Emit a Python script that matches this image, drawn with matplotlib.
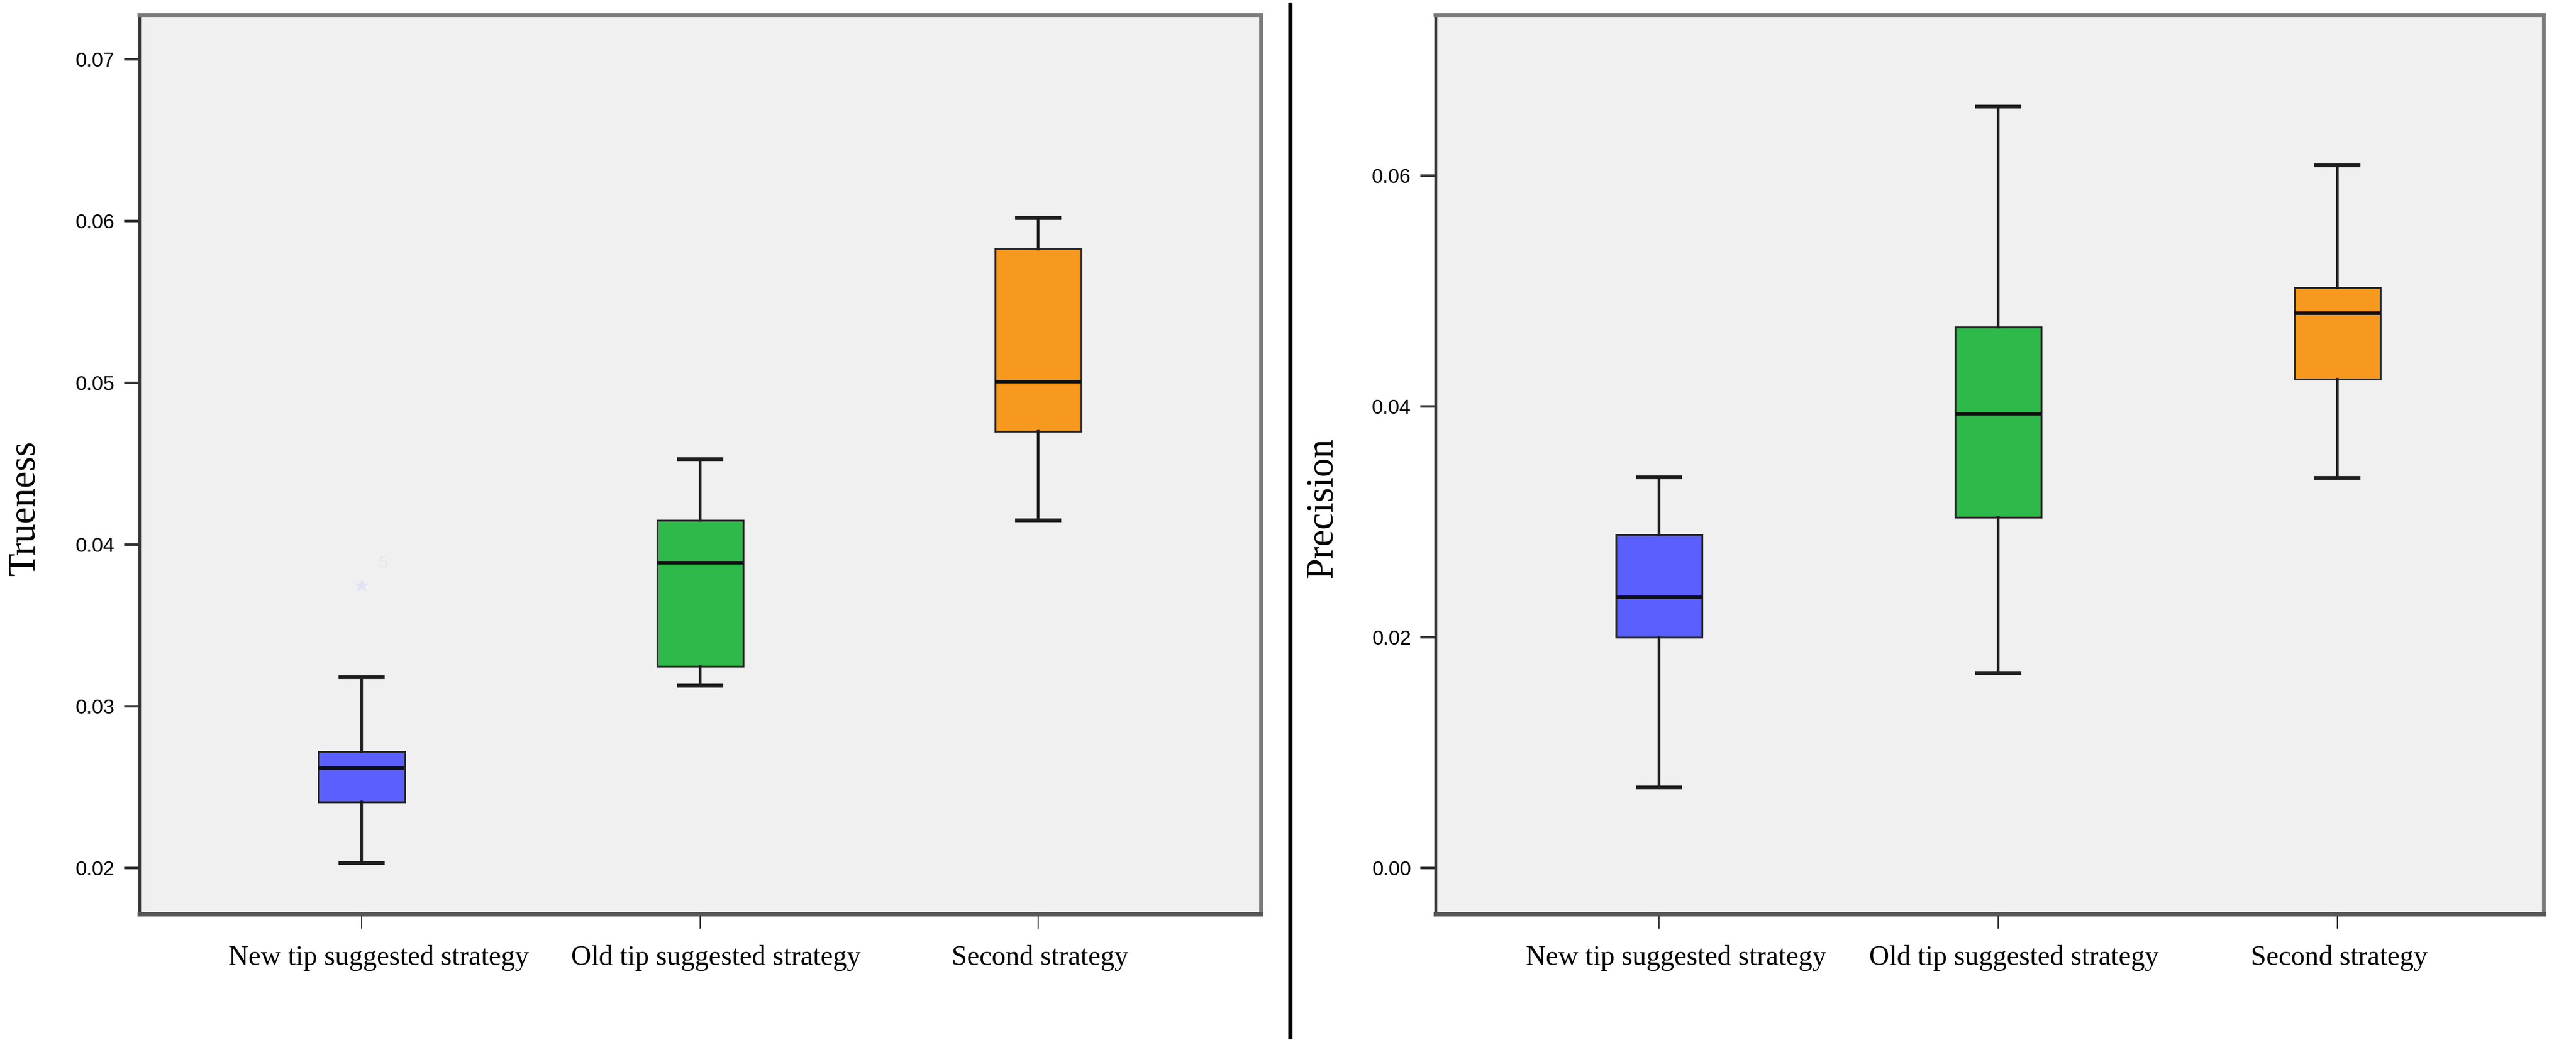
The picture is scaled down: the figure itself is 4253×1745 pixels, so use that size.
import matplotlib
matplotlib.use("Agg")
import matplotlib.pyplot as plt
from matplotlib.lines import Line2D

# groups on the x axis
groups = ["New tip suggested strategy", "Old tip suggested strategy", "Second strategy"]
colors = ["#5b5ffd", "#2fb94a", "#f7991f"]

# Trueness: whisker low, q1, median, q3, whisker high
true_low = [0.0203, 0.0313, 0.0415]
true_q1 = [0.0241, 0.0325, 0.0470]
true_med = [0.0262, 0.0389, 0.0501]
true_q3 = [0.0272, 0.0415, 0.0583]
true_high = [0.0318, 0.0453, 0.0602]
true_outliers = [[0.0375], [], []]

# Precision
prec_low = [0.0070, 0.0169, 0.0338]
prec_q1 = [0.0200, 0.0304, 0.0424]
prec_med = [0.0235, 0.0394, 0.0481]
prec_q3 = [0.0289, 0.0469, 0.0503]
prec_high = [0.0339, 0.0660, 0.0609]
prec_outliers = [[], [], []]

true_ticks = [0.02, 0.03, 0.04, 0.05, 0.06, 0.07]
prec_ticks = [0.00, 0.02, 0.04, 0.06]

positions = [1, 2, 3]
# the category labels sit a little right of their ticks in the original (points)
label_shift = [20, 19, 2]


def make_stats(low, q1, med, q3, high, fl):
    out = []
    for i in range(len(low)):
        out.append({"whislo": low[i], "q1": q1[i], "med": med[i], "q3": q3[i],
                    "whishi": high[i], "fliers": fl[i]})
    return out


def draw(ax, stats, ticks, ylabel, ylim, xlim, labx):
    ax.set_facecolor("#f0f0f0")
    bp = ax.bxp(stats, positions=positions, widths=0.254, patch_artist=True,
                showfliers=True,
                boxprops=dict(edgecolor="#2a2a2a", linewidth=2.2),
                medianprops=dict(color="#111111", linewidth=4.2),
                whiskerprops=dict(color="#1e1e1e", linewidth=3.2),
                capprops=dict(color="#1e1e1e", linewidth=4.5),
                capwidths=0.125,
                flierprops=dict(marker="*", markersize=16, markerfacecolor="#e2e2f6",
                                markeredgecolor="#e2e2f6", linestyle="none"))
    for patch, c in zip(bp["boxes"], colors):
        patch.set_facecolor(c)
    ax.set_xlim(*xlim)
    ax.set_ylim(*ylim)
    ax.set_yticks(ticks)
    ax.set_yticklabels(["%.2f" % t for t in ticks], fontfamily="Liberation Sans", fontsize=24)
    ax.set_xticks(positions)
    ax.set_xticklabels([])
    for p, g, dx in zip(positions, groups, label_shift):
        ax.annotate(g, xy=(p, 0), xycoords=("data", "axes fraction"),
                    xytext=(dx, -37), textcoords="offset points",
                    ha="center", va="top", fontfamily="Liberation Serif", fontsize=33)
    ax.tick_params(axis="y", direction="out", length=18, width=3, color="#333333", pad=11)
    ax.tick_params(axis="x", direction="out", length=17, width=1.4, color="#333333", pad=20)
    ax.set_ylabel(ylabel, fontfamily="Liberation Serif", fontsize=45)
    ax.yaxis.set_label_coords(labx, 0.452)
    ax.spines["left"].set_color("#333333")
    ax.spines["left"].set_linewidth(3.3)
    ax.spines["bottom"].set_color("#555555")
    ax.spines["bottom"].set_linewidth(5)
    for s in ["top", "right"]:
        ax.spines[s].set_color("#7a7a7a")
        ax.spines[s].set_linewidth(4.5)


fig = plt.figure(figsize=(42.53, 17.45), dpi=100)
ax1 = fig.add_axes([0.0541, 0.1352, 0.4355, 0.8504])
ax2 = fig.add_axes([0.5573, 0.1352, 0.4303, 0.8504])

draw(ax1, make_stats(true_low, true_q1, true_med, true_q3, true_high, true_outliers),
     true_ticks, "Trueness", (0.01716, 0.07274), (0.343, 3.659), -0.086)
ax1.text(1.05, 0.0386, "5", color="#e8e8e8", fontsize=20, fontfamily="Liberation Sans")

draw(ax2, make_stats(prec_low, prec_q1, prec_med, prec_q3, prec_high, prec_outliers),
     prec_ticks, "Precision", (-0.00398, 0.07393), (0.341, 3.61), -0.0863)

# black divider between the two panels
fig.add_artist(Line2D([0.5008, 0.5008], [0.019, 0.996], color="black", linewidth=5,
                      transform=fig.transFigure))

fig.savefig("out.png", dpi=100, facecolor="white")
